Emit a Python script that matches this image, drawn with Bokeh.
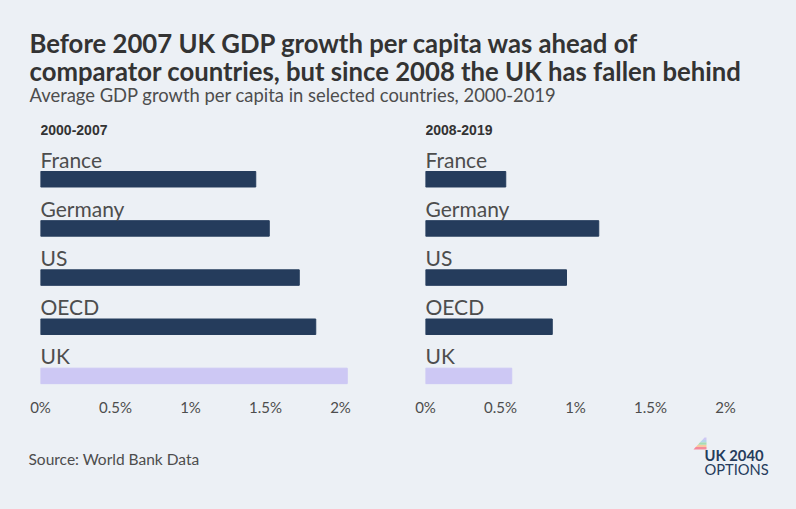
from bokeh.plotting import figure
from bokeh.layouts import column, row
from bokeh.models import Label, ColumnDataSource, FixedTicker
from bokeh.core.properties import value
from bokeh.embed import file_html
from bokeh.resources import INLINE

countries = ["France", "Germany", "US", "OECD", "UK"]
growth_2000_2007 = [1.435, 1.525, 1.725, 1.835, 2.045]
growth_2008_2019 = [0.535, 1.155, 0.94, 0.845, 0.575]
tick_values = [0, 0.5, 1, 1.5, 2]
tick_labels = ["0%", "0.5%", "1%", "1.5%", "2%"]
panel_titles = ["2000-2007", "2008-2019"]
title_lines = ["Before 2007 UK GDP growth per capita was ahead of",
               "comparator countries, but since 2008 the UK has fallen behind"]
subtitle = "Average GDP growth per capita in selected countries, 2000-2019"
source = "Source: World Bank Data"

BG = "#ecf0f5"
NAVY = "#253c5c"
LILAC = "#cdc8f4"
FONT = "Lato"
TEXT = "#4d4d4d"


def blank(w, h):
    f = figure(width=w, height=h, x_range=(0, w), y_range=(h, 0),
               output_backend="svg", toolbar_location=None, tools="",
               background_fill_color=BG, border_fill_color=BG,
               min_border=0, outline_line_color=None)
    f.axis.visible = False
    f.grid.visible = False
    return f


def put(f, x, y, text, size, color, style="normal", font=FONT):
    f.add_layout(Label(x=x, y=y, text=text, text_font=font, text_font_size=size,
                       text_color=color, text_font_style=style,
                       text_baseline="middle", text_align="left"))


header = blank(796, 105)
put(header, 29, 42, title_lines[0], "25.7px", "#333333", "bold")
put(header, 29, 70, title_lines[1], "25.7px", "#333333", "bold")
put(header, 29, 94, subtitle, "18.4px", TEXT)


def panel(values, w, border_left, xmax, title):
    cats = countries[::-1] + [""]
    src = ColumnDataSource(dict(
        cat=countries, val=values, zero=[0] * len(values),
        col=[LILAC if c == "UK" else NAVY for c in countries]))
    f = figure(width=w, height=320, x_range=(0, xmax), y_range=cats,
               output_backend="svg", toolbar_location=None, tools="",
               background_fill_color=BG, border_fill_color=BG,
               min_border_left=border_left, min_border_right=0, min_border_top=0,
               min_border_bottom=25, outline_line_color=None)
    f.y_range.factor_padding = 0
    f.y_range.range_padding = 0
    f.hbar(y="cat", right="val", left=0, height=0.315, color="col", source=src)
    f.text(x="zero", y="cat", text="cat", source=src, text_font=value(FONT),
           text_font_size="21px", text_color=TEXT, text_baseline="alphabetic",
           text_align="left", y_offset=-20)
    f.text(x=[0], y=[""], text=[title], text_font=value("Liberation Sans"),
           text_font_style="bold", text_font_size="14px", text_color="#333333",
           text_baseline="middle", text_align="left")
    f.grid.visible = False
    f.yaxis.visible = False
    ax = f.xaxis[0]
    ax.ticker = FixedTicker(ticks=tick_values)
    ax.major_label_overrides = dict(zip(tick_values, tick_labels))
    ax.axis_line_color = None
    ax.major_tick_line_color = None
    ax.minor_tick_line_color = None
    ax.major_tick_out = 0
    ax.minor_tick_out = 0
    ax.major_label_standoff = -3
    ax.major_label_text_font = FONT
    ax.major_label_text_font_size = "15px"
    ax.major_label_text_color = TEXT
    return f


left = panel(growth_2000_2007, 393, 40, 353 / 150, panel_titles[0])
right = panel(growth_2008_2019, 403, 32, 371 / 150, panel_titles[1])

footer = blank(796, 84)
put(footer, 28, 33, source, "15.5px", TEXT)
stripe_colors = ["#f58a9b", "#f7c9a0", "#a8dcb0", "#b5d5ea", "#cdc8f4"]
for i, c in enumerate(stripe_colors):
    t = i / 5
    b = (i + 1) / 5
    footer.patch([693 + 11 * t, 706, 706, 693 + 11 * b],
                 [24 - 12 * t, 24 - 12 * t, 24 - 12 * b, 24 - 12 * b],
                 color=c, line_width=0)
put(footer, 704, 29, "UK 2040", "14.8px", NAVY, "bold")
put(footer, 704, 43, "OPTIONS", "14.7px", NAVY)

page = column(header, row(left, right, spacing=0), footer, spacing=0)
html = file_html(page, INLINE)
html = html.replace("<head>", "<head><style>html,body{background:%s;margin:0}</style>" % BG, 1)
open("out.html", "w").write(html)
